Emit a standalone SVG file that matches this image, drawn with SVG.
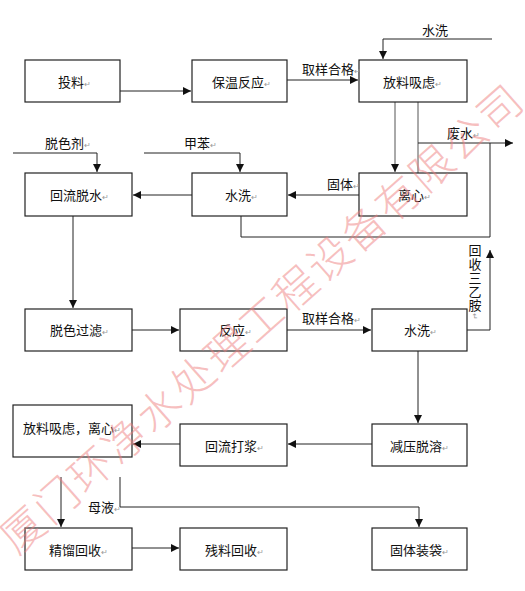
<svg xmlns="http://www.w3.org/2000/svg" width="525" height="591" viewBox="0 0 525 591">
<defs>
<style>
.box rect{fill:#fff;stroke:#222;stroke-width:1.2}
text{font-family:"Noto Sans CJK SC","Liberation Sans",sans-serif;font-size:13px;fill:#111}
.rt{font-size:8px;fill:#999}
.c path{fill:none;stroke:#222;stroke-width:1}
.g{stroke:#555 !important}
.wm{font-size:43px;font-weight:300;fill:#ee7f7f;fill-opacity:0.5;letter-spacing:2.5px}
</style>
<marker id="a" markerUnits="userSpaceOnUse" markerWidth="9" markerHeight="8" refX="8" refY="4" orient="auto">
<path d="M0,0 L8,4 L0,8 Z" fill="#111"/>
</marker>
</defs>
<rect width="525" height="591" fill="#fff"/>
<g id="connectors" class="c">
<path d="M120,91 H191" marker-end="url(#a)"/>
<path d="M287,80 H358" marker-end="url(#a)"/>
<path d="M492,39 H383 V59" marker-end="url(#a)"/>
<path class="g" d="M395,102 V172" marker-end="url(#a)"/>
<path class="g" d="M418,102 V173"/>
<path d="M418,143 H513" marker-end="url(#a)"/>
<path d="M490,143 V237 H241 V216"/>
<path d="M359,195 H288" marker-end="url(#a)"/>
<path d="M192,195 H133" marker-end="url(#a)"/>
<path d="M13,153 H97 V172" marker-end="url(#a)"/>
<path d="M144,153 H240 V172" marker-end="url(#a)"/>
<path d="M73,216 V308" marker-end="url(#a)"/>
<path d="M132,330 H179" marker-end="url(#a)"/>
<path d="M287,330 H371" marker-end="url(#a)"/>
<path d="M467,330 H490 V250" marker-end="url(#a)"/>
<path d="M418,351 V423" marker-end="url(#a)"/>
<path d="M372,444 H288" marker-end="url(#a)"/>
<path d="M180,444 H133" marker-end="url(#a)"/>
<path d="M61,477 V527" marker-end="url(#a)"/>
<path d="M120,477 V507 H419 V527" marker-end="url(#a)"/>
<path d="M132,548 H179" marker-end="url(#a)"/>
</g>
<g id="n1" class="box"><rect x="25" y="60" width="95" height="42"/><text x="58" y="87">投料<tspan class="rt">↵</tspan></text></g>
<g id="n2" class="box"><rect x="192" y="60" width="95" height="42"/><text x="212" y="87">保温反应<tspan class="rt">↵</tspan></text></g>
<g id="n3" class="box"><rect x="359" y="60" width="108" height="42"/><text x="383" y="87">放料吸虑<tspan class="rt">↵</tspan></text></g>
<g id="n4" class="box"><rect x="25" y="173" width="107" height="43"/><text x="50" y="200">回流脱水<tspan class="rt">↵</tspan></text></g>
<g id="n5" class="box"><rect x="192" y="173" width="95" height="43"/><text x="225" y="200">水洗<tspan class="rt">↵</tspan></text></g>
<g id="n6" class="box"><rect x="359" y="173" width="108" height="43"/><text x="398" y="200">离心<tspan class="rt">↵</tspan></text></g>
<g id="n7" class="box"><rect x="25" y="309" width="107" height="42"/><text x="50" y="335">脱色过滤<tspan class="rt">↵</tspan></text></g>
<g id="n8" class="box"><rect x="180" y="309" width="107" height="42"/><text x="219" y="335">反应<tspan class="rt">↵</tspan></text></g>
<g id="n9" class="box"><rect x="372" y="309" width="95" height="42"/><text x="404" y="335">水洗<tspan class="rt">↵</tspan></text></g>
<g id="n10" class="box"><rect x="13" y="405" width="119" height="52"/><text x="23" y="433">放料吸虑，离心<tspan class="rt">↵</tspan></text></g>
<g id="n11" class="box"><rect x="180" y="424" width="107" height="42"/><text x="205" y="451">回流打浆<tspan class="rt">↵</tspan></text></g>
<g id="n12" class="box"><rect x="372" y="424" width="95" height="42"/><text x="390" y="451">减压脱溶<tspan class="rt">↵</tspan></text></g>
<g id="n13" class="box"><rect x="25" y="528" width="107" height="42"/><text x="49" y="555">精馏回收<tspan class="rt">↵</tspan></text></g>
<g id="n14" class="box"><rect x="180" y="528" width="107" height="42"/><text x="205" y="555">残料回收<tspan class="rt">↵</tspan></text></g>
<g id="n15" class="box"><rect x="372" y="528" width="95" height="42"/><text x="390" y="555">固体装袋<tspan class="rt">↵</tspan></text></g>
<g id="labels">
<text x="422" y="35">水洗</text>
<text x="302" y="74">取样合格<tspan class="rt">↵</tspan></text>
<text x="447" y="138">废水<tspan class="rt">↵</tspan></text>
<text x="45" y="148">脱色剂<tspan class="rt">↵</tspan></text>
<text x="184" y="148">甲苯<tspan class="rt">↵</tspan></text>
<text x="327" y="189">固体<tspan class="rt">↵</tspan></text>
<text x="302" y="323">取样合格<tspan class="rt">↵</tspan></text>
<text x="475" y="244" writing-mode="tb" letter-spacing="0.7">回收三乙胺<tspan class="rt">↵</tspan></text>
<text x="88" y="512">母液<tspan class="rt">↵</tspan></text>
</g>
<text class="wm" transform="translate(262,318) rotate(-41.5)" x="0" y="16" text-anchor="middle">厦门环净水处理工程设备有限公司</text>
</svg>
